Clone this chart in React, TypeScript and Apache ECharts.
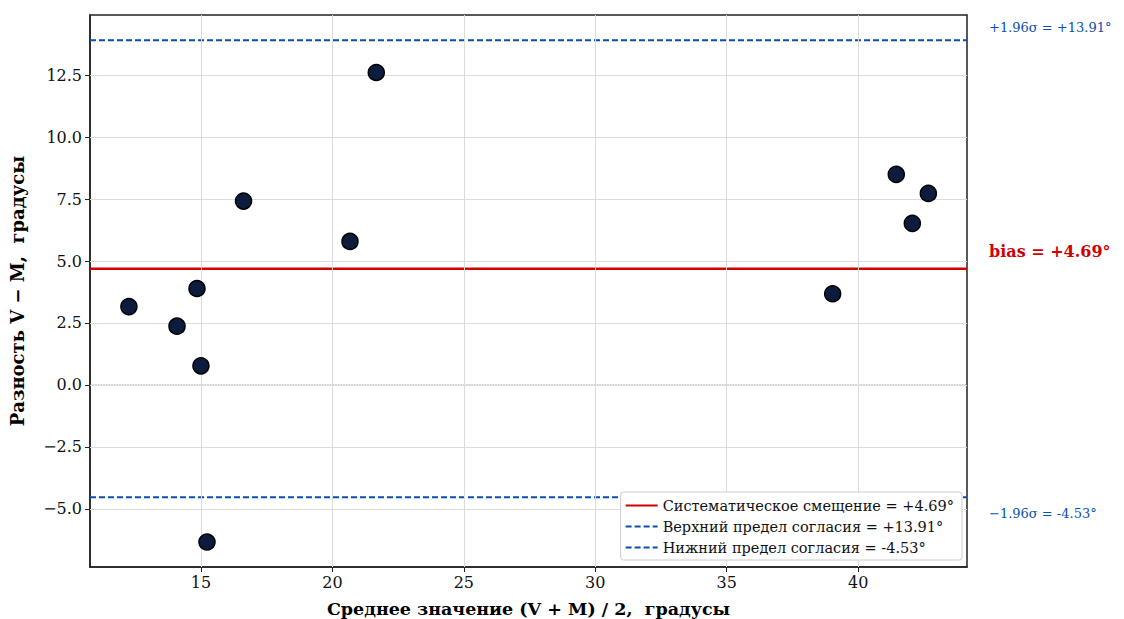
import React, { useEffect, useRef } from "react";
import * as echarts from "echarts";

const meanX = [12.26, 14.09, 14.85, 15.0, 15.23, 16.62, 20.67, 21.67, 39.03, 41.45, 42.06, 42.67];
const diffY = [3.16, 2.37, 3.89, 0.77, -6.34, 7.42, 5.79, 12.61, 3.68, 8.5, 6.52, 7.73];
const bias = 4.69;
const upperLoA = 13.91;
const lowerLoA = -4.53;
const xTicks = [15, 20, 25, 30, 35, 40];
const yTicks = [-5, -2.5, 0, 2.5, 5, 7.5, 10, 12.5];
const xRange = [10.78, 44.14];
const yRange = [-7.35, 14.93];

const FONT = "DejaVu Serif";
const BLUE = "#0a4fb0";
const RED = "#d00000";

const fmt = (v: number, d: number) => {
  const s = v.toFixed(d);
  return s.startsWith("-") ? "\u2212" + s.slice(1) : s;
};

export default function App() {
  const ref = useRef<HTMLDivElement>(null);
  useEffect(() => {
    if (!ref.current) return;
    document.body.style.margin = "0";
    const chart = echarts.init(ref.current, null, { renderer: "svg" });
    const hLine = (v: number) => [
      [xRange[0], v],
      [xRange[1], v],
    ];
    const gridMarks = [
      ...xTicks.map((x) => ({ xAxis: x })),
      ...yTicks.map((y) => ({ yAxis: y })),
    ];
    chart.setOption({
      animation: false,
      grid: {
        left: 90,
        right: 157,
        top: 15,
        bottom: 52,
        containLabel: false,
        outerBoundsMode: "none",
        show: true,
        borderColor: "#222",
        borderWidth: 1.5,
      },
      xAxis: {
        type: "value",
        min: xRange[0],
        max: xRange[1],
        name: "Среднее значение (V + M) / 2,  градусы",
        nameLocation: "middle",
        nameGap: 33,
        nameTextStyle: { fontFamily: FONT, fontWeight: "bold", fontSize: 17.5, color: "#000" },
        axisLine: { show: true, onZero: false, lineStyle: { color: "#222", width: 1.5 } },
        axisTick: { show: true, customValues: xTicks, length: 5, lineStyle: { color: "#222" } },
        axisLabel: {
          customValues: xTicks,
          fontFamily: FONT,
          fontSize: 16,
          color: "#111",
          margin: 7,
          formatter: (v: number) => fmt(v, 0),
        },
        splitLine: { show: false },
      },
      yAxis: {
        type: "value",
        min: yRange[0],
        max: yRange[1],
        name: "Разность V − M,  градусы",
        nameLocation: "middle",
        nameGap: 64,
        nameTextStyle: { fontFamily: FONT, fontWeight: "bold", fontSize: 18, color: "#000" },
        axisLine: { show: true, onZero: false, lineStyle: { color: "#222", width: 1.5 } },
        axisTick: { show: true, customValues: yTicks, length: 5, lineStyle: { color: "#222" } },
        axisLabel: {
          customValues: yTicks,
          fontFamily: FONT,
          fontSize: 16,
          color: "#111",
          margin: 8,
          formatter: (v: number) => fmt(v, 1),
        },
        splitLine: { show: false },
      },
      legend: {
        orient: "vertical",
        right: 162,
        bottom: 59,
        padding: [6, 8, 5, 4],
        backgroundColor: "#ffffff",
        borderColor: "#cccccc",
        borderWidth: 1,
        borderRadius: 3,
        itemWidth: 32,
        itemHeight: 14,
        itemGap: 6,
        z: 20,
        itemStyle: { color: "transparent", borderWidth: 0, opacity: 0 },
        textStyle: { fontFamily: FONT, fontSize: 14.5, color: "#111" },
        data: [
          "Систематическое смещение = +4.69°",
          "Верхний предел согласия = +13.91°",
          "Нижний предел согласия = -4.53°",
        ],
      },
      series: [
        {
          type: "line",
          name: "grid",
          data: [],
          silent: true,
          z: 1,
          markLine: {
            silent: true,
            symbol: "none",
            label: { show: false },
            lineStyle: { color: "#dcdcdc", width: 1, type: "solid" },
            data: gridMarks,
          },
        },
        {
          type: "line",
          name: "zero",
          data: hLine(0),
          symbol: "none",
          silent: true,
          lineStyle: { color: "#777", width: 0.8, type: "dotted" },
        },
        {
          type: "line",
          name: "Систематическое смещение = +4.69°",
          data: hLine(bias),
          symbol: "none",
          color: RED,
          lineStyle: { color: RED, width: 2.5 },
          endLabel: {
            show: true,
            distance: 22,
            formatter: "bias = +4.69°",
            fontFamily: FONT,
            fontWeight: "bold",
            fontSize: 16,
            color: RED,
            offset: [0, -17],
          },
        },
        {
          type: "line",
          name: "Верхний предел согласия = +13.91°",
          data: hLine(upperLoA),
          symbol: "none",
          color: BLUE,
          lineStyle: { color: BLUE, width: 2, type: [6, 3] },
          endLabel: {
            show: true,
            distance: 22,
            formatter: "+1.96σ = +13.91°",
            fontFamily: FONT,
            fontSize: 13,
            color: BLUE,
            offset: [0, -13],
          },
        },
        {
          type: "line",
          name: "Нижний предел согласия = -4.53°",
          data: hLine(lowerLoA),
          symbol: "none",
          color: BLUE,
          lineStyle: { color: BLUE, width: 2, type: [6, 3] },
          endLabel: {
            show: true,
            distance: 22,
            formatter: "−1.96σ = -4.53°",
            fontFamily: FONT,
            fontSize: 13,
            color: BLUE,
            offset: [0, 16],
          },
        },
        {
          type: "scatter",
          name: "points",
          data: meanX.map((x, i) => [x, diffY[i]]),
          symbolSize: 16,
          itemStyle: { color: "#0b1c3e", borderColor: "#000", borderWidth: 1.5, opacity: 1 },
          z: 10,
        },
      ],
    });
    return () => chart.dispose();
  }, []);
  return <div ref={ref} style={{ width: 1124, height: 619 }} />;
}
